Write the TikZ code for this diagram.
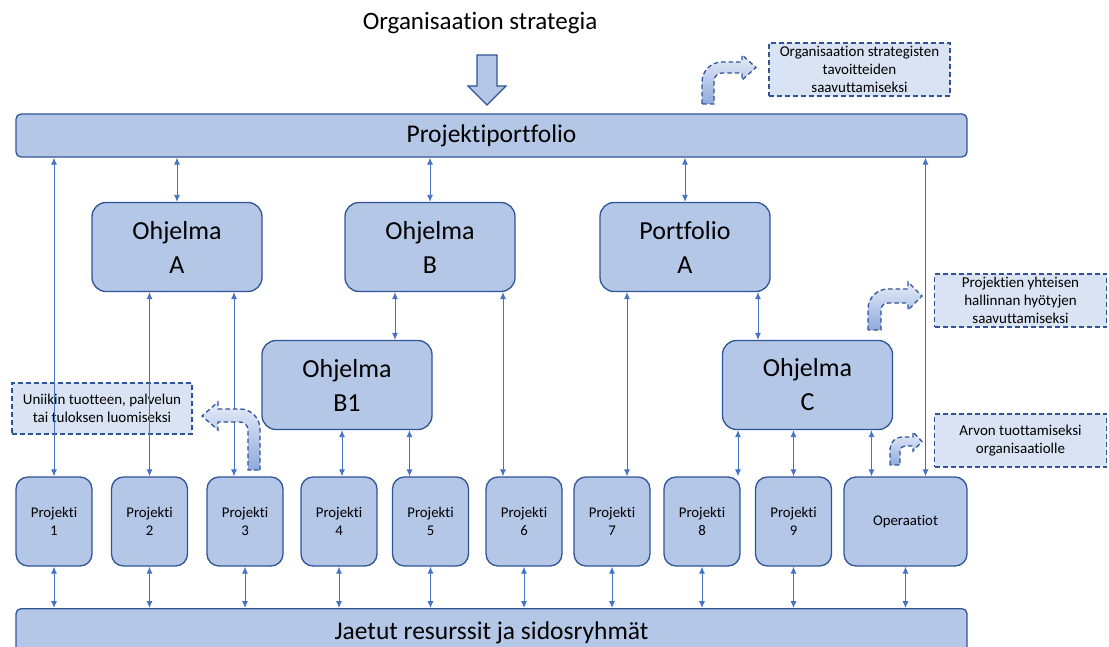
\documentclass[tikz,border=0pt]{standalone}
\usepackage{fontspec}
\setmainfont{Carlito}[Ligatures=NoCommon]
\usetikzlibrary{arrows.meta,calc}

\definecolor{boxfill}{HTML}{B4C7E7}
\definecolor{boxline}{HTML}{2F5597}
\definecolor{linkblue}{HTML}{4472C4}
\definecolor{notefill}{HTML}{DAE3F3}
\definecolor{bendtop}{HTML}{E6ECF8}
\definecolor{bendbottom}{HTML}{8FAADC}

\tikzset{
  box/.style={draw=boxline, fill=boxfill, line width=1.3pt, align=center, inner sep=0pt, text=black},
  bigbox/.style={box, rounded corners=14pt, minimum width=170pt, minimum height=89pt,
                 font=\fontsize{26}{34}\selectfont},
  projbox/.style={box, rounded corners=12pt, minimum width=76pt, minimum height=89pt,
                  font=\fontsize{14.8}{18}\selectfont},
  bar/.style={box, rounded corners=5pt, minimum width=951pt, minimum height=43pt,
              font=\fontsize{25.5}{30}\selectfont},
  note/.style={draw=boxline, fill=notefill, line width=1.3pt, dash pattern=on 5pt off 3pt,
               align=center, inner sep=0pt, font=\fontsize{15}{18}\selectfont},
  link/.style={draw=linkblue, line width=0.9pt,
               {Latex[length=7pt,width=6pt]}-{Latex[length=7pt,width=6pt]}},
  bendarrow/.style={draw=boxline, line width=1.3pt, dash pattern=on 4.5pt off 3pt,
                    top color=bendtop, bottom color=bendbottom},
  downarrow/.style={draw=boxline, fill=boxfill, line width=1.2pt, line join=miter},
}

\begin{document}
\begin{tikzpicture}[x=1pt, y=-1pt]
\useasboundingbox (0,0) rectangle (1109,647);

% heading and the strategy arrow feeding the portfolio
\node[font=\fontsize{25}{29}\selectfont] (title) at (480,23) {Organisaation strategia};
\draw[downarrow] (477,55) -- (497,55) -- (497,86) -- (506,86) -- (487,105)
                 -- (468,86) -- (477,86) -- cycle;

% top and bottom bars
\node[bar] (pp) at (491.5,135.5) {Projektiportfolio};
\node[bar, minimum height=48pt, anchor=north] (jr) at (491.5,608)
     {Jaetut resurssit ja sidosryhmät};

% programmes and portfolio
\node[bigbox] (oa) at (177,247)   {Ohjelma\\A};
\node[bigbox] (ob) at (430,247)   {Ohjelma\\B};
\node[bigbox] (pa) at (685,247)   {Portfolio\\A};
\node[bigbox] (b1) at (347,385)   {Ohjelma\\B1};
\node[bigbox] (oc) at (807.5,385) {Ohjelma\\C};

% projects and operations
\node[projbox] (p1) at (54,521.5)    {Projekti\\1};
\node[projbox] (p2) at (149.5,521.5) {Projekti\\2};
\node[projbox] (p3) at (245,521.5)   {Projekti\\3};
\node[projbox] (p4) at (339,521.5)   {Projekti\\4};
\node[projbox] (p5) at (430.5,521.5) {Projekti\\5};
\node[projbox] (p6) at (524,521.5)   {Projekti\\6};
\node[projbox] (p7) at (612,521.5)   {Projekti\\7};
\node[projbox] (p8) at (702,521.5)   {Projekti\\8};
\node[projbox] (p9) at (793.5,521.5) {Projekti\\9};
\node[projbox, minimum width=123pt] (op) at (905.5,521.5) {Operaatiot};

% notes
\node[note, minimum width=181pt, minimum height=53pt] (n1) at (859.5,69.5)
     {Organisaation strategisten\\tavoitteiden\\saavuttamiseksi};
\node[note, minimum width=180pt, minimum height=51pt] (n2) at (102,408.5)
     {Uniikin tuotteen, palvelun\\tai tuloksen luomiseksi};
\node[note, minimum width=172pt, minimum height=53pt] (n3) at (1020.5,300.5)
     {Projektien yhteisen\\hallinnan hyötyjen\\saavuttamiseksi};
\node[note, minimum width=172pt, minimum height=53pt] (n4) at (1020.5,440.5)
     {Arvon tuottamiseksi\\organisaatiolle};

% portfolio links
\draw[link] (pp.south -| oa.north) -- (oa.north);
\draw[link] (pp.south -| ob.north) -- (ob.north);
\draw[link] (pp.south -| pa.north) -- (pa.north);
\draw[link] (pp.south -| p1.north) -- (p1.north);
\draw[link] ([xshift=20pt]op.north |- pp.south) -- ([xshift=20pt]op.north);

% programme links
\draw[link] (oa.south -| p2.north) -- (p2.north);
\draw[link] ([xshift=-11pt]p3.north |- oa.south) -- ([xshift=-11pt]p3.north);
\draw[link] ([xshift=-35pt]ob.south) -- ([xshift=-35pt]ob.south |- b1.north);
\draw[link] ([xshift=-21pt]p6.north |- ob.south) -- ([xshift=-21pt]p6.north);
\draw[link] ([xshift=3pt]p4.north |- b1.south) -- ([xshift=3pt]p4.north);
\draw[link] ([xshift=-21pt]p5.north |- b1.south) -- ([xshift=-21pt]p5.north);
\draw[link] ([xshift=15pt]p7.north |- pa.south) -- ([xshift=15pt]p7.north);
\draw[link] ([xshift=73pt]pa.south) -- ([xshift=73pt]pa.south |- oc.north);
\draw[link] ([xshift=36pt]p8.north |- oc.south) -- ([xshift=36pt]p8.north);
\draw[link] (oc.south -| p9.north) -- (p9.north);
\draw[link] ([xshift=-34pt]op.north |- oc.south) -- ([xshift=-34pt]op.north);

% shared resources links
\foreach \p in {p1,p2,p3,p4,p5,p6,p7,p8,p9,op}
  \draw[link] (\p.south) -- (\p.south |- jr.north);

% bent arrows next to the notes
\draw[bendarrow] (702,104) -- (702,82) .. controls (702,71) and (711,62) .. (722,62)
  -- (742,62) -- (742,55) -- (756,67.5) -- (742,80) -- (742,73) -- (722,73)
  .. controls (717.6,73) and (714,76.6) .. (714,81) -- (714,104) -- cycle;
\draw[bendarrow] (260,470) -- (260,429) .. controls (260,418) and (251,409) .. (240,409)
  -- (218,409) -- (218,402) -- (202,416) -- (218,430) -- (218,422) -- (240,422)
  .. controls (244.4,422) and (248,425.6) .. (248,430) -- (248,470) -- cycle;
\draw[bendarrow] (868,330) -- (868,309) .. controls (868,298) and (877,289) .. (888,289)
  -- (908,289) -- (908,282) -- (922,296) -- (908,310) -- (908,303) -- (888,303)
  .. controls (884.1,303) and (881,306.1) .. (881,310) -- (881,330) -- cycle;
\draw[bendarrow] (890,465) -- (890,449) .. controls (890,442.4) and (895.4,437) .. (902,437)
  -- (913,437) -- (913,432) -- (922,441.5) -- (913,451) -- (913,446) -- (905,446)
  .. controls (902.2,446) and (900,448.2) .. (900,451) -- (900,465) -- cycle;
\end{tikzpicture}
\end{document}
